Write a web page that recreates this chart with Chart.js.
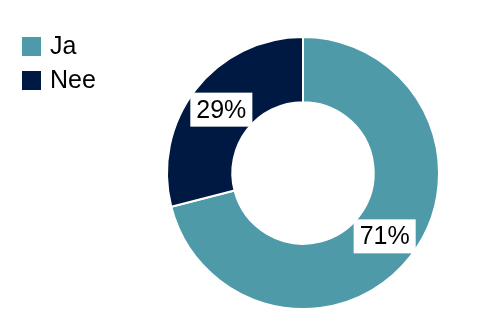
<!DOCTYPE html>
<html>
<head>
<meta charset="utf-8">
<script src="https://cdn.jsdelivr.net/npm/chart.js@4.4.1/dist/chart.umd.min.js"></script>
<style>
  html, body { margin: 0; padding: 0; background: #fff; }
  #wrap { position: relative; width: 492px; height: 326px; }
</style>
</head>
<body>
<div id="wrap"><canvas id="grafico" width="492" height="326"></canvas></div>
<script>
const categorias = ["Ja", "Nee"];
const valores = [71, 29];
const cores = ["#4E9AA8", "#001943"];

// desenha legenda no canto superior esquerdo
const legendaPlugin = {
  id: "legendaCanto",
  afterDraw(chart) {
    const ctx = chart.ctx;
    ctx.save();
    ctx.font = "25px 'Liberation Sans', Arial, sans-serif";
    ctx.textBaseline = "middle";
    ctx.textAlign = "left";
    categorias.forEach((nome, i) => {
      const y = 46 + i * 34;
      ctx.fillStyle = cores[i];
      ctx.fillRect(22, y - 9, 19, 19);
      ctx.fillStyle = "#000";
      ctx.fillText(nome, 50, y + 1);
    });
    ctx.restore();
  },
};

// rótulos de percentagem com caixa branca
const rotulosPlugin = {
  id: "rotulos",
  afterDatasetsDraw(chart) {
    const ctx = chart.ctx;
    const meta = chart.getDatasetMeta(0);
    ctx.save();
    ctx.font = "25px 'Liberation Sans', Arial, sans-serif";
    ctx.textBaseline = "middle";
    ctx.textAlign = "center";
    meta.data.forEach((arc, i) => {
      const p = arc.getCenterPoint();
      const texto = valores[i] + "%";
      const w = ctx.measureText(texto).width + 12;
      const h = 34;
      ctx.fillStyle = "#fff";
      ctx.fillRect(p.x - w / 2, p.y - h / 2, w, h);
      ctx.fillStyle = "#000";
      ctx.fillText(texto, p.x, p.y + 1);
    });
    ctx.restore();
  },
};

const ctx = document.getElementById("grafico").getContext("2d");
new Chart(ctx, {
  type: "doughnut",
  data: {
    labels: categorias,
    datasets: [
      {
        data: valores,
        backgroundColor: cores,
        borderColor: "#fff",
        borderWidth: 2,
      },
    ],
  },
  options: {
    responsive: false,
    animation: false,
    cutout: "52%",
    layout: {
      padding: { left: 166, right: 52, top: 35, bottom: 15 },
    },
    plugins: {
      legend: { display: false },
      tooltip: { enabled: false },
    },
  },
  plugins: [legendaPlugin, rotulosPlugin],
});
</script>
</body>
</html>
